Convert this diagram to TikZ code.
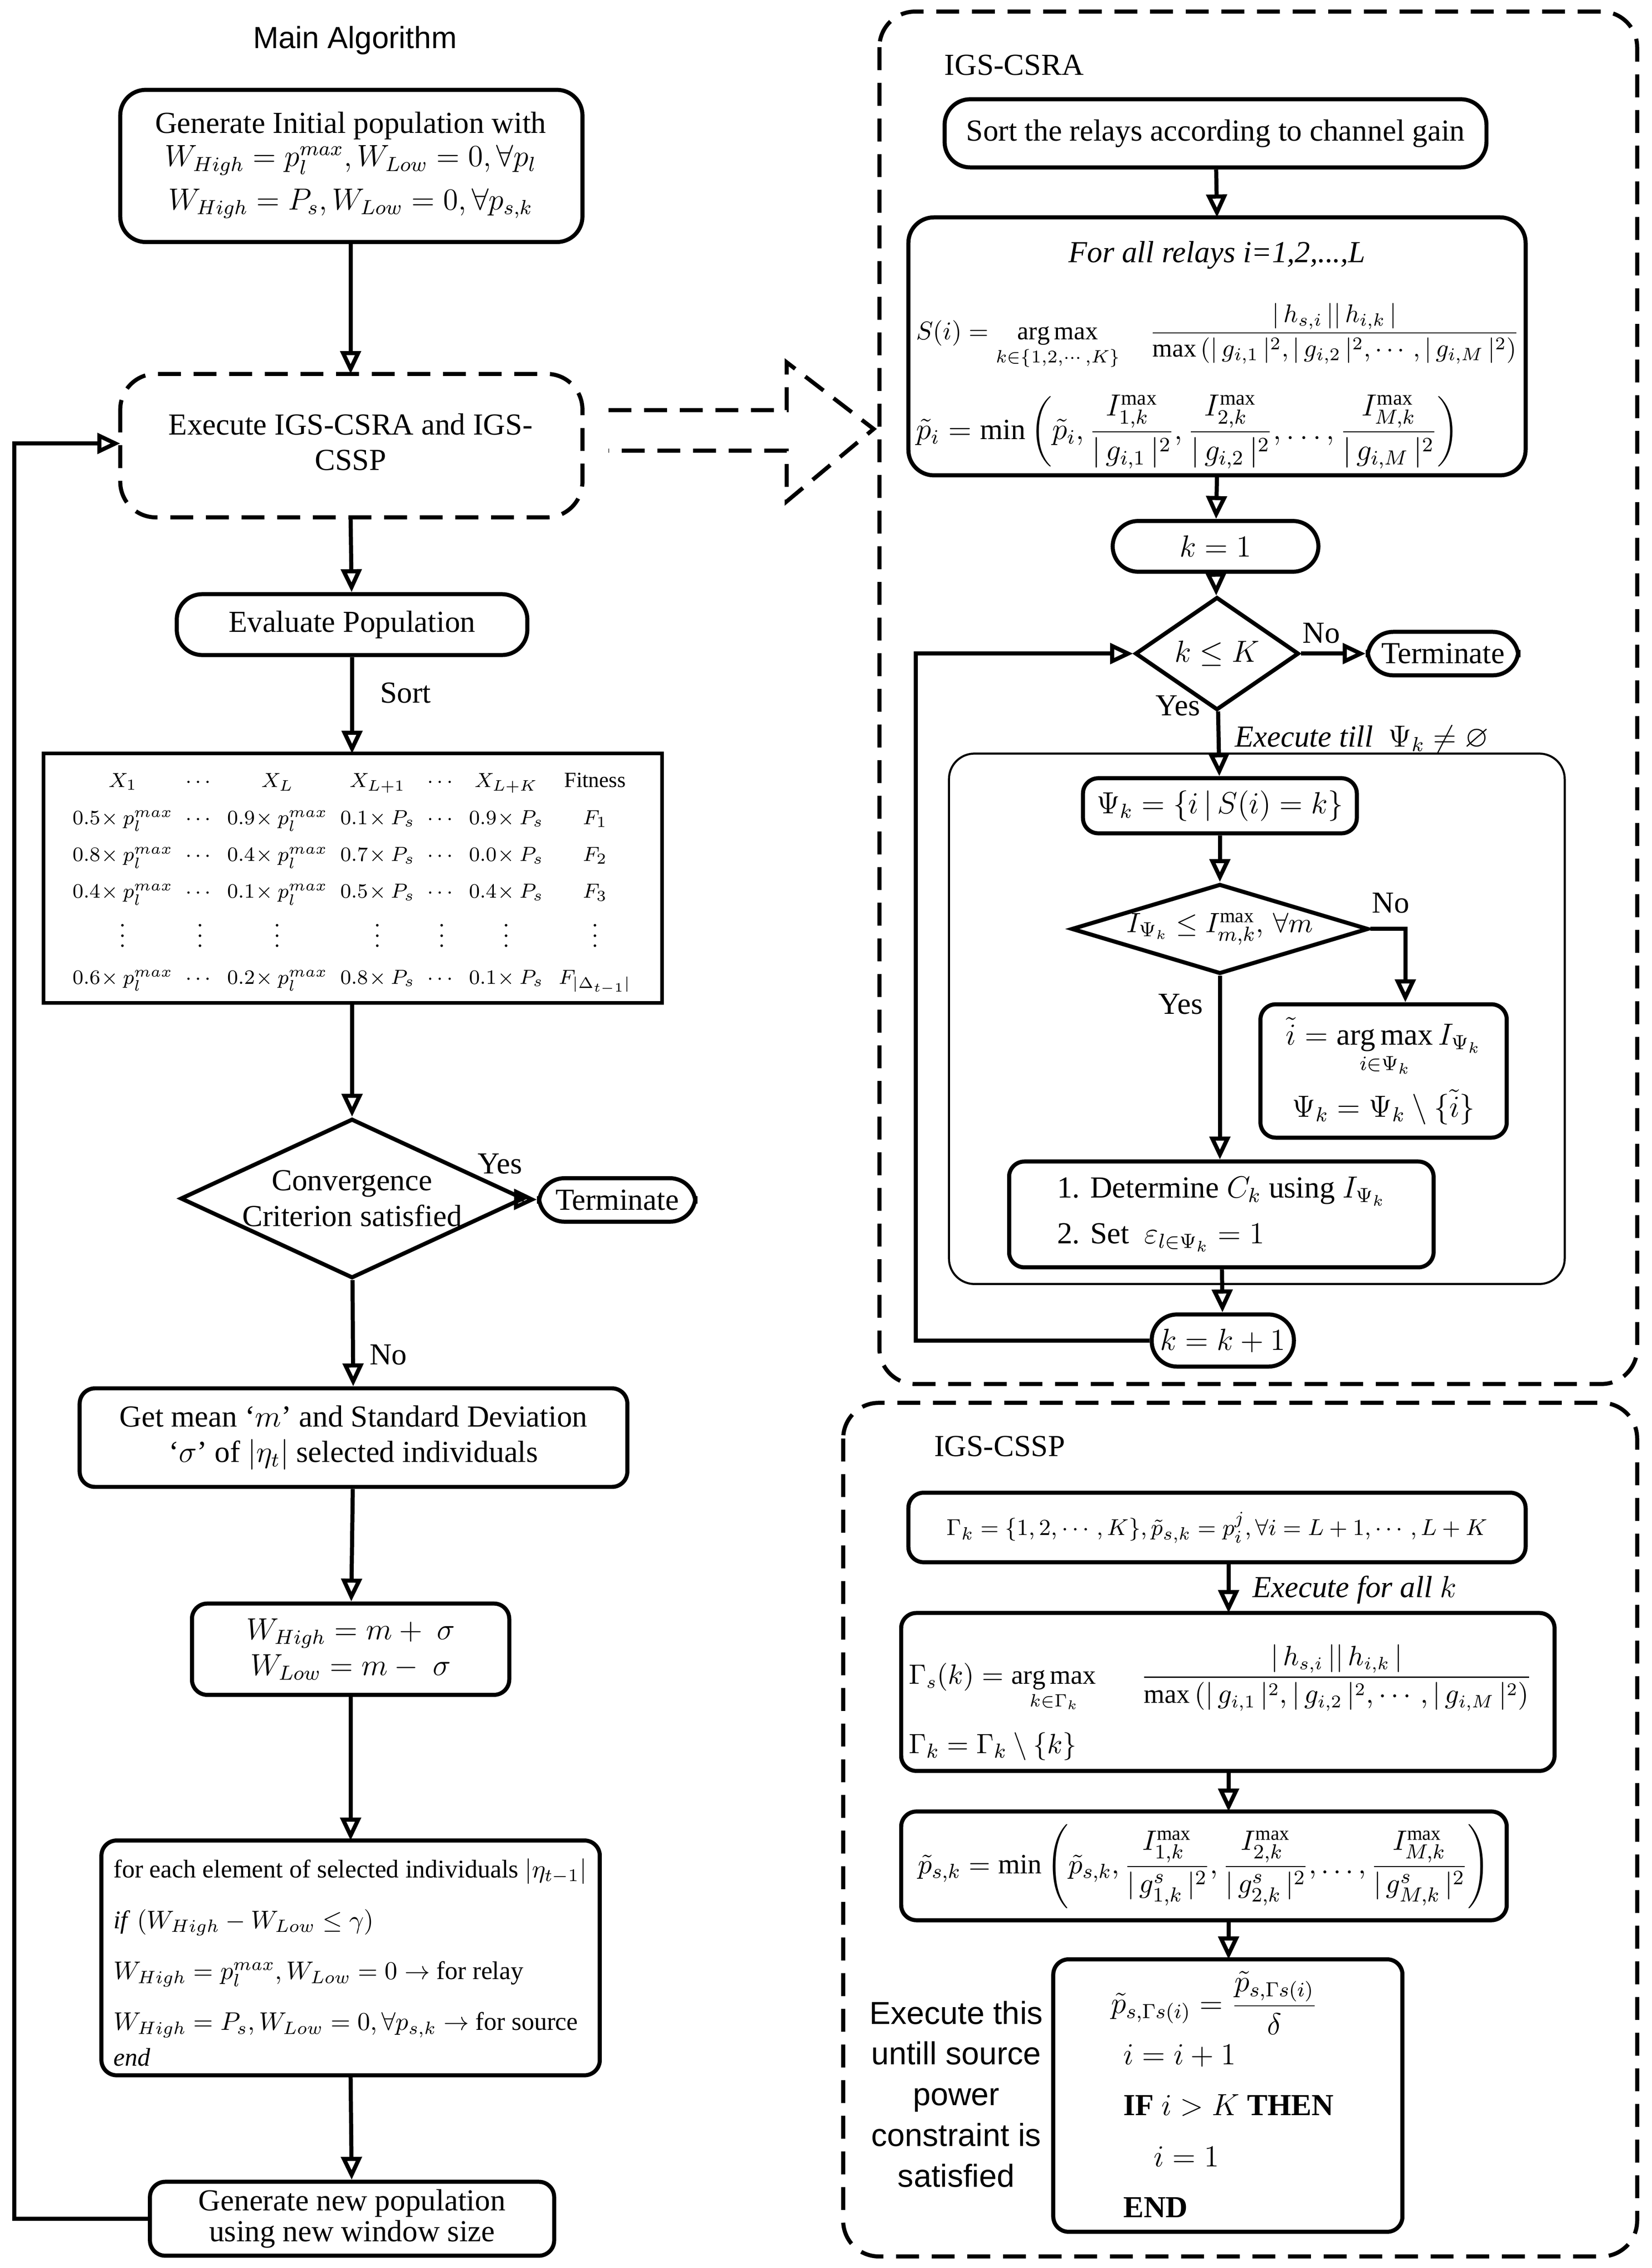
\documentclass[tikz,border=0pt]{standalone}
\usepackage{amsmath,amssymb}
\usepackage{fontspec}
\setmainfont{Liberation Serif}
\newfontfamily\sff{Liberation Sans}
\usetikzlibrary{arrows.meta,shapes.geometric}
\begin{document}
\begin{tikzpicture}[x=0.02cm,y=-0.02cm,
  box/.style={draw,line width=1.6pt,rounded corners=10pt,align=center,font=\fontsize{12}{14}\selectfont},
  sbox/.style={draw,line width=1.4pt,align=center},
  dia/.style={draw,diamond,line width=1.6pt,aspect=2.2,align=center,inner sep=0pt,font=\fontsize{12}{14}\selectfont},
  arr/.style={line width=1.6pt,-{Triangle[open,length=9pt,width=8pt]}},
  lab/.style={font=\fontsize{12}{14}\selectfont},
  dbox/.style={draw,line width=1.6pt,dashed,dash pattern=on 9pt off 5pt,rounded corners=14pt}]
\useasboundingbox (0,0) rectangle (1140,1565);
% ---------- LEFT ----------
\node[font=\sff\fontsize{12}{14}\selectfont] (t1) at (245,28) {Main Algorithm};
\draw[box] (83,62) rectangle (402,167);
\node[lab,align=center] (b1) at (242,114) {Generate Initial population with\\[-1pt]
 $W_{High}=p_l^{max},W_{Low}=0,\forall p_l$\\[3pt] $W_{High}=P_s,W_{Low}=0,\forall p_{s,k}$};
\coordinate (b1s) at (242,167);
\draw[dbox] (83,258) rectangle (402,357);
\node[lab,align=center] (b2) at (242,305) {Execute IGS-CSRA and IGS-\\CSSP};
\coordinate (b2n) at (242,258); \coordinate (b2s) at (242,357); \coordinate (b2w) at (83,306);
\node[box,minimum width=242*0.02cm,minimum height=42*0.02cm] (b3) at (243,431) {Evaluate Population};
\node[lab] (sort) at (280,478) {Sort};
\draw[line width=1.4pt] (30,520) rectangle (457,692);
\coordinate (tabn) at (243,520); \coordinate (tabs) at (243,692);
\node[font=\fontsize{8.5}{10}\selectfont,inner sep=0pt] (tab) at (243,606) {%
\renewcommand{\arraystretch}{1.45}%
\begin{tabular}{@{}c@{\hspace{5pt}}c@{\hspace{5pt}}c@{\hspace{5pt}}c@{\hspace{5pt}}c@{\hspace{5pt}}c@{\hspace{6pt}}c@{}}
$X_1$ & $\cdots$ & $X_L$ & $X_{L+1}$ & $\cdots$ & $X_{L+K}$ & Fitness\\
$0.5\!\times p_l^{max}$ & $\cdots$ & $0.9\!\times p_l^{max}$ & $0.1\!\times P_s$ & $\cdots$ & $0.9\!\times P_s$ & $F_1$\\
$0.8\!\times p_l^{max}$ & $\cdots$ & $0.4\!\times p_l^{max}$ & $0.7\!\times P_s$ & $\cdots$ & $0.0\!\times P_s$ & $F_2$\\
$0.4\!\times p_l^{max}$ & $\cdots$ & $0.1\!\times p_l^{max}$ & $0.5\!\times P_s$ & $\cdots$ & $0.4\!\times P_s$ & $F_3$\\
$\vdots$ & $\vdots$ & $\vdots$ & $\vdots$ & $\vdots$ & $\vdots$ & $\vdots$\\
$0.6\!\times p_l^{max}$ & $\cdots$ & $0.2\!\times p_l^{max}$ & $0.8\!\times P_s$ & $\cdots$ & $0.1\!\times P_s$ & $F_{|\Delta_{t-1}|}$
\end{tabular}};
\node[dia,minimum width=228*0.02cm,minimum height=110*0.02cm] (d1) at (243,827) {Convergence\\Criterion satisfied};
\node[lab] at (345,803) {Yes};
\node[box,minimum width=108*0.02cm,minimum height=30*0.02cm,inner sep=1pt] (term1) at (426,828) {Terminate};
\node[lab] at (268,935) {No};
\node[box,rounded corners=6pt,minimum width=378*0.02cm,minimum height=68*0.02cm] (b5) at (244,992) {Get mean `$m$' and Standard Deviation\\`$\sigma$' of $\left|\eta_t\right|$ selected individuals};
\node[box,rounded corners=6pt,minimum width=219*0.02cm,minimum height=63*0.02cm] (b6) at (242,1138) {$W_{High}=m+\ \sigma$\\$W_{Low}=m-\ \sigma$};
\draw[line width=1.6pt,rounded corners=6pt] (70,1270) rectangle (414,1432);
\node[align=left,font=\fontsize{10}{12}\selectfont,anchor=north west,inner sep=0pt] (b7) at (78,1282) {%
for each element of selected individuals $\left|\eta_{t-1}\right|$\\[8pt]
\textit{if} $\left(W_{High}-W_{Low}\le\gamma\right)$\\[8pt]
$W_{High}=p_l^{max},W_{Low}=0\rightarrow$ for relay\\[8pt]
$W_{High}=P_s,W_{Low}=0,\forall p_{s,k}\rightarrow$ for source\\[2pt]
\textit{end}};
\coordinate (b7n) at (242,1270); \coordinate (b7s) at (242,1432);
\node[box,rounded corners=6pt,minimum width=279*0.02cm,minimum height=51*0.02cm,inner sep=1pt] (b8) at (243,1531) {Generate new population\\[-2pt]using new window size};
\draw[arr] (b1s) -- (b2n);
\draw[arr] (b2s) -- (b3);
\draw[arr] (b3) -- (tabn);
\draw[arr] (tabs) -- (d1);
\draw[arr] (d1) -- (term1);
\draw[arr] (d1) -- (b5);
\draw[arr] (b5) -- (b6);
\draw[arr] (b6) -- (b7n);
\draw[arr] (b7s) -- (b8);
\coordinate (fb1) at (10,1531); \coordinate (fb2) at (10,306);
\draw[arr] (b8.west) -- (fb1) -- (fb2) -- (b2w);
% big dashed arrow
\draw[line width=1.6pt,dash pattern=on 9pt off 5pt] (420,283) -- (543,283) -- (543,250) -- (603,296) -- (543,346) -- (543,311) -- (420,311);
% ---------- RIGHT TOP ----------
\draw[dbox] (607,8) rectangle (1130,955);
\node[lab] at (700,45) {IGS-CSRA};
\node[box,minimum width=374*0.02cm,minimum height=47*0.02cm] (r1) at (839,92) {Sort the relays according to channel gain};
\draw[line width=1.6pt,rounded corners=10pt] (627,150) rectangle (1053,328);
\coordinate (r2n) at (840,150); \coordinate (r2s) at (840,328);
\node[lab,font=\fontsize{12}{14}\selectfont\itshape] at (840,176) {For all relays i=1,2,...,L};
\node[anchor=west,font=\fontsize{10}{12}\selectfont,inner sep=0pt] at (632,232) {$S(i)=\displaystyle\mathop{\arg\max}_{k\in\{1,2,\cdots,K\}}\quad\frac{|\,h_{s,i}\,||\,h_{i,k}\,|}{\max\left(|\,g_{i,1}\,|^2,|\,g_{i,2}\,|^2,\cdots,|\,g_{i,M}\,|^2\right)}$};
\node[anchor=west,font=\fontsize{11.5}{13}\selectfont,inner sep=0pt] at (632,298) {$\tilde p_i=\min\left(\tilde p_i,\dfrac{I_{1,k}^{\max}}{|\,g_{i,1}\,|^2},\dfrac{I_{2,k}^{\max}}{|\,g_{i,2}\,|^2},\ldots,\dfrac{I_{M,k}^{\max}}{|\,g_{i,M}\,|^2}\right)$};
\node[box,minimum width=142*0.02cm,minimum height=35*0.02cm] (r3) at (839,377) {$k=1$};
\node[dia,minimum width=113*0.02cm,minimum height=78*0.02cm] (d2) at (840,451) {$k\le K$};
\node[lab] at (912,437) {No};
\node[box,minimum width=104*0.02cm,minimum height=30*0.02cm,inner sep=1pt] (term2) at (996,451) {Terminate};
\node[lab] at (813,487) {Yes};
\node[lab,font=\fontsize{12}{14}\selectfont\itshape] at (940,510) {Execute till\ \ $\Psi_k\neq\varnothing$};
\draw[line width=0.8pt,rounded corners=10pt] (655,520) rectangle (1080,886);
\node[box,rounded corners=6pt,minimum width=189*0.02cm,minimum height=38*0.02cm] (r4) at (842,556) {$\Psi_k=\{i\,|\,S(i)=k\}$};
\node[dia,aspect=3.3,minimum width=205*0.02cm,minimum height=62*0.02cm,font=\fontsize{11}{13}\selectfont] (d3) at (842,641) {$I_{\Psi_k}\le I_{m,k}^{\max},\,\forall m$};
\node[lab] at (960,623) {No};
\node[lab] at (815,693) {Yes};
\node[box,rounded corners=6pt,minimum width=170*0.02cm,minimum height=92*0.02cm] (r5) at (955,739) {$\tilde i=\mathop{\arg\max}\limits_{i\in\Psi_k}I_{\Psi_k}$\\[4pt]$\Psi_k=\Psi_k\setminus\{\tilde i\}$};
\node[box,rounded corners=6pt,minimum width=293*0.02cm,minimum height=73*0.02cm,align=left] (r6) at (843,838) {1. Determine $C_k$ using $I_{\Psi_k}$\\[4pt]2. Set\ \ $\varepsilon_{l\in\Psi_k}=1$};
\node[box,minimum width=98*0.02cm,minimum height=36*0.02cm] (r7) at (844,925) {$k=k+1$};
\draw[arr] (r1) -- (r2n);
\draw[arr] (r2s) -- (r3);
\draw[arr] (r3) -- (d2);
\draw[arr] (d2) -- (term2);
\draw[arr] (d2) -- (r4);
\draw[arr] (r4) -- (d3);
\coordinate (nc) at (970,641);
\draw[arr] (d3.east) -- (nc) -- (r5.north -| nc);
\draw[arr] (d3) -- (d3 |- r6.north);
\draw[arr] (r6) -- (r7);
\coordinate (lp1) at (632,925); \coordinate (lp2) at (632,451);
\draw[arr] (r7.west) -- (lp1) -- (lp2) -- (d2.west);
% ---------- RIGHT BOTTOM ----------
\draw[dbox] (582,968) rectangle (1130,1557);
\node[lab] at (690,998) {IGS-CSSP};
\draw[line width=1.6pt,rounded corners=6pt] (627,1030) rectangle (1053,1078);
\coordinate (s1s) at (848,1078);
\node[font=\fontsize{9.5}{11}\selectfont,inner sep=0pt] (s1) at (840,1054) {$\Gamma_k=\{1,2,\cdots,K\},\tilde p_{s,k}=p_i^j,\forall i=L+1,\cdots,L+K$};
\node[lab,font=\fontsize{12}{14}\selectfont\itshape] at (935,1097) {Execute for all $k$};
\draw[line width=1.6pt,rounded corners=6pt] (622,1113) rectangle (1073,1222);
\coordinate (s2n) at (848,1113); \coordinate (s2s) at (848,1222);
\node[anchor=west,font=\fontsize{10.5}{12}\selectfont,inner sep=0pt] at (627,1158) {$\Gamma_s(k)=\displaystyle\mathop{\arg\max}_{k\in\Gamma_k}\quad\ \ \frac{|\,h_{s,i}\,||\,h_{i,k}\,|}{\max\left(|\,g_{i,1}\,|^2,|\,g_{i,2}\,|^2,\cdots,|\,g_{i,M}\,|^2\right)}$};
\node[anchor=west,font=\fontsize{11}{13}\selectfont,inner sep=0pt] at (627,1205) {$\Gamma_k=\Gamma_k\setminus\{k\}$};
\draw[line width=1.6pt,rounded corners=6pt] (622,1250) rectangle (1040,1325);
\coordinate (s3n) at (848,1250); \coordinate (s3s) at (848,1325);
\node[font=\fontsize{11}{13}\selectfont,inner sep=0pt] (s3) at (831,1288) {$\tilde p_{s,k}=\min\left(\tilde p_{s,k},\dfrac{I_{1,k}^{\max}}{|\,g_{1,k}^s\,|^2},\dfrac{I_{2,k}^{\max}}{|\,g_{2,k}^s\,|^2},\ldots,\dfrac{I_{M,k}^{\max}}{|\,g_{M,k}^s\,|^2}\right)$};
\draw[line width=1.6pt,rounded corners=6pt] (727,1352) rectangle (968,1540);
\coordinate (s4n) at (848,1352);
\node[anchor=north west,align=left,font=\fontsize{12}{15}\selectfont,inner sep=0pt] (s4) at (775,1360) {%
\hspace{-0.4em}$\tilde p_{s,\Gamma s(i)}=\dfrac{\tilde p_{s,\Gamma s(i)}}{\delta}$\\[3pt]
$i=i+1$\\[5pt]
\textbf{IF} $i>K$ \textbf{THEN}\\[5pt]
\quad$i=1$\\[5pt]
\textbf{END}};
\node[align=center,font=\sff\fontsize{12.5}{16}\selectfont] (note) at (660,1445) {Execute this\\untill source\\power\\constraint is\\satisfied};
\draw[arr] (s1s) -- (s2n);
\draw[arr] (s2s) -- (s3n);
\draw[arr] (s3s) -- (s4n);
\end{tikzpicture}
\end{document}
